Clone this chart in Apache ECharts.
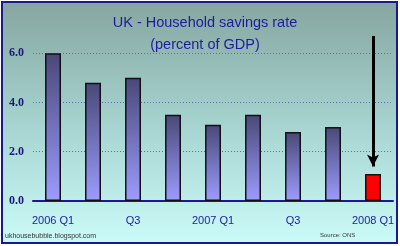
<!DOCTYPE html>
<html><head><meta charset="utf-8">
<script src="https://cdn.jsdelivr.net/npm/echarts@6/dist/echarts.min.js"></script>
<style>html,body{margin:0;padding:0;}#c{width:400px;height:246px;}</style>
</head><body><div id="c"></div>
<script>
const categories = ['2006 Q1','Q2','Q3','Q4','2007 Q1','Q2','Q3','Q4','2008 Q1'];
const savingsRate = [6.0, 4.8, 5.0, 3.5, 3.1, 3.5, 2.8, 3.0, 1.1];
const arrowFrom = 6.7;
const arrowTo = 1.4;
const titleText = 'UK - Household savings rate\n(percent of GDP)';

const chart = echarts.init(document.getElementById('c'));
const barGrad = new echarts.graphic.LinearGradient(0,0,0,1,[{offset:0,color:'#4a4878'},{offset:1,color:'#9c9cff'}]);
chart.setOption({
  animation:false,
  graphic:[
    {type:'rect', z:-10, shape:{x:2,y:2,width:395,height:241},
     style:{fill:new echarts.graphic.LinearGradient(0,0,0,1,[{offset:0,color:'#86a5a0'},{offset:0.5,color:'#a6d3cf'},{offset:1,color:'#cbfbf8'}]),
            stroke:'#1a1a8c', lineWidth:2}},
    {type:'text', left:5, top:233, style:{text:'ukhousebubble.blogspot.com', font:'7px "Liberation Sans", sans-serif', fill:'#333'}},
    {type:'text', left:320, top:232, style:{text:'Source: ONS', font:'6px "Liberation Sans", sans-serif', fill:'#333'}}
  ],
  title:{text:titleText, left:200, top:7, textAlign:'center',
    textStyle:{fontFamily:'"Liberation Sans", sans-serif', fontSize:14.5, fontWeight:'normal', color:'#1c1ca0', lineHeight:22}},
  grid:{left:33, right:7, top:28.6, bottom:45},
  xAxis:{type:'category', data:categories,
    axisLine:{lineStyle:{color:'#1a1a8c', width:2}},
    axisTick:{show:false},
    axisLabel:{interval:1, color:'#1c1ca0', fontSize:11, fontFamily:'"Liberation Sans", sans-serif', margin:14}},
  yAxis:{type:'value', min:0, max:7, interval:2,
    axisLine:{show:false}, axisTick:{show:false},
    axisLabel:{showMaxLabel:false, formatter:v=>v.toFixed(1), color:'#1a1a7c', fontSize:12, fontWeight:'bold', fontFamily:'"Liberation Serif", serif', margin:9},
    splitLine:{showMaxLine:false, lineStyle:{color:'#5a6cb4', type:[1,2], width:1}}},
  series:[{
    type:'bar', data:savingsRate.map((v,i)=>({value:v, itemStyle: i===savingsRate.length-1 ? {color:'#ff0000'} : {}})),
    barWidth:16,
    itemStyle:{color:barGrad, borderColor:'#111', borderWidth:1.5},
    markLine:{silent:true, symbol:['none','arrow'], symbolSize:[9,12],
      lineStyle:{color:'#000', width:3, type:'solid'}, label:{show:false},
      data:[[{coord:[categories.length-1, arrowFrom]},{coord:[categories.length-1, arrowTo]}]]}
  }]
});
</script></body></html>
